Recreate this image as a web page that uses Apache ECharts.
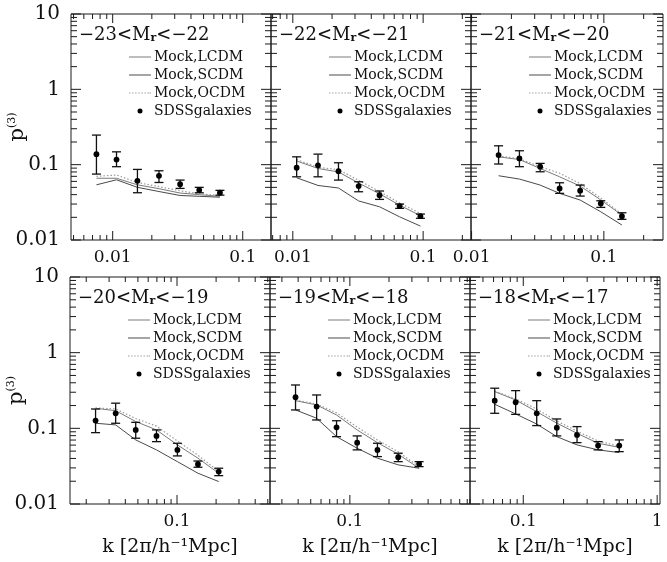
<!DOCTYPE html>
<html><head><meta charset="utf-8">
<script src="https://cdn.jsdelivr.net/npm/echarts@6/dist/echarts.min.js"></script>
<style>html,body{margin:0;padding:0;background:#fff}#c{width:667px;height:562px}</style>
</head><body><div id="c"></div>
<script>
const FONT = 'DejaVu Serif';
const INK = '#111';

// ---------- tick labels ----------
const yRange = [0.01, 10];
const yTickLabels = {'-2': '0.01', '-1': '0.1', '0': '1', '1': '10'};
const xTickLabels = {'-3': '0.001', '-2': '0.01', '-1': '0.1', '0': '1'};
const xAxisTitle = 'k [2π/h⁻¹Mpc]';
const seriesNames = ['Mock,LCDM', 'Mock,SCDM', 'Mock,OCDM', 'SDSSgalaxies'];

// ---------- panel labels (magnitude bins) ----------
const magBins = [['−23', '−22'], ['−22', '−21'], ['−21', '−20'], ['−20', '−19'], ['−19', '−18'], ['−18', '−17']];
const xRanges = [[0.00478, 0.165], [0.0068, 0.233], [0.0099, 0.28], [0.015, 0.52], [0.0243, 0.84], [0.04, 1.05]];

// ---------- panel 1: -23<Mr<-22 ----------
const k1 = [0.0075, 0.0107, 0.0155, 0.0227, 0.033, 0.0463, 0.0668];
const p1 = [0.138, 0.117, 0.061, 0.071, 0.055, 0.046, 0.0424];
const hi1 = [0.247, 0.148, 0.0865, 0.083, 0.0624, 0.050, 0.0456];
const lo1 = [0.075, 0.094, 0.0424, 0.058, 0.0484, 0.0424, 0.0394];
const lcdm1 = [0.066, 0.066, 0.054, 0.048, 0.042, 0.040, 0.038];
const scdm1 = [0.054, 0.063, 0.050, 0.044, 0.039, 0.038, 0.037];
const ocdm1 = [0.070, 0.073, 0.058, 0.051, 0.045, 0.041, 0.039];

// ---------- panel 2: -22<Mr<-21 ----------
const k2 = [0.0107, 0.0156, 0.0224, 0.032, 0.0463, 0.066, 0.0953];
const p2 = [0.091, 0.098, 0.082, 0.052, 0.0394, 0.0282, 0.0207];
const hi2 = [0.127, 0.138, 0.106, 0.0593, 0.0447, 0.030, 0.0221];
const lo2 = [0.069, 0.069, 0.0624, 0.0437, 0.0346, 0.0263, 0.0194];
const lcdm2 = [0.112, 0.089, 0.080, 0.057, 0.041, 0.029, 0.021];
const scdm2 = [0.067, 0.053, 0.049, 0.033, 0.0276, 0.0203, 0.0153];
const ocdm2 = [0.117, 0.092, 0.086, 0.062, 0.044, 0.031, 0.0225];

// ---------- panel 3: -21<Mr<-20 ----------
const k3 = [0.016, 0.023, 0.033, 0.0463, 0.0662, 0.0948, 0.137];
const p3 = [0.134, 0.121, 0.094, 0.0484, 0.0451, 0.0306, 0.0207];
const hi3 = [0.178, 0.153, 0.104, 0.0575, 0.0536, 0.0332, 0.023];
const lo3 = [0.102, 0.094, 0.0805, 0.0416, 0.0383, 0.0271, 0.0188];
const lcdm3 = [0.127, 0.117, 0.089, 0.069, 0.052, 0.034, 0.0214];
const scdm3 = [0.0713, 0.0644, 0.0536, 0.0416, 0.0339, 0.0237, 0.0158];
const ocdm3 = [0.13, 0.12, 0.094, 0.077, 0.056, 0.036, 0.022];

// ---------- panel 4: -20<Mr<-19 ----------
const k4 = [0.0236, 0.0337, 0.0481, 0.0695, 0.1007, 0.145, 0.2095];
const p4 = [0.1265, 0.158, 0.0953, 0.0794, 0.0519, 0.0336, 0.0268];
const hi4 = [0.180, 0.215, 0.12, 0.0953, 0.0635, 0.037, 0.0297];
const lo4 = [0.0877, 0.1167, 0.074, 0.0667, 0.0432, 0.0306, 0.0237];
const lcdm4 = [0.184, 0.171, 0.123, 0.0953, 0.0604, 0.0403, 0.0255];
const scdm4 = [0.1167, 0.111, 0.0703, 0.0519, 0.0363, 0.0255, 0.0198];
const ocdm4 = [0.186, 0.18, 0.135, 0.107, 0.068, 0.044, 0.027];

// ---------- panel 5: -19<Mr<-18 ----------
const k5 = [0.0382, 0.0555, 0.079, 0.1138, 0.163, 0.2355, 0.341];
const p5 = [0.2575, 0.194, 0.103, 0.0647, 0.0519, 0.0415, 0.0339];
const hi5 = [0.374, 0.276, 0.126, 0.0794, 0.0635, 0.0469, 0.0363];
const lo5 = [0.175, 0.129, 0.0776, 0.0519, 0.0423, 0.0363, 0.0312];
const lcdm5 = [0.232, 0.204, 0.150, 0.0953, 0.0647, 0.0455, 0.0297];
const scdm5 = [0.175, 0.136, 0.0776, 0.0546, 0.0403, 0.0329, 0.0297];
const ocdm5 = [0.236, 0.21, 0.16, 0.104, 0.07, 0.049, 0.031];

// ---------- panel 6: -18<Mr<-17 ----------
const k6 = [0.0612, 0.0877, 0.126, 0.178, 0.252, 0.362, 0.521];
const p6 = [0.232, 0.221, 0.158, 0.102, 0.0819, 0.0592, 0.0592];
const hi6 = [0.339, 0.315, 0.232, 0.133, 0.1054, 0.0667, 0.0703];
const lo6 = [0.158, 0.153, 0.1087, 0.0794, 0.0647, 0.0519, 0.0492];
const lcdm6 = [0.306, 0.237, 0.166, 0.117, 0.086, 0.0635, 0.056];
const scdm6 = [0.208, 0.155, 0.114, 0.0776, 0.0604, 0.0519, 0.0478];
const ocdm6 = [0.31, 0.245, 0.18, 0.125, 0.092, 0.068, 0.058];

const panels = [
  {k: k1, p: p1, hi: hi1, lo: lo1, lcdm: lcdm1, scdm: scdm1, ocdm: ocdm1},
  {k: k2, p: p2, hi: hi2, lo: lo2, lcdm: lcdm2, scdm: scdm2, ocdm: ocdm2},
  {k: k3, p: p3, hi: hi3, lo: lo3, lcdm: lcdm3, scdm: scdm3, ocdm: ocdm3},
  {k: k4, p: p4, hi: hi4, lo: lo4, lcdm: lcdm4, scdm: scdm4, ocdm: ocdm4},
  {k: k5, p: p5, hi: hi5, lo: lo5, lcdm: lcdm5, scdm: scdm5, ocdm: ocdm5},
  {k: k6, p: p6, hi: hi6, lo: lo6, lcdm: lcdm6, scdm: scdm6, ocdm: ocdm6}
];

// ---------- layout ----------
const gridBoxes = [
  [71, 14, 200, 226], [271, 14, 200, 226], [471, 14, 192, 226],
  [70, 277, 200, 227], [270, 277, 200, 227], [470, 277, 190, 227]
];
const lineColors = ['#7a7a7a', '#4a4a4a', '#9a9a9a'];
const SOLID_ICON = 'path://M0,0h22v1h-22z';
const DOT_ICON = 'path://M0,0h1.4v1h-1.4zM3.1,0h1.4v1h-1.4zM6.2,0h1.4v1h-1.4zM9.3,0h1.4v1h-1.4zM12.4,0h1.4v1h-1.4zM15.5,0h1.4v1h-1.4zM18.6,0h1.4v1h-1.4zM20.6,0h1.4v1h-1.4z';

function decadeLabel(map) {
  return function (v) {
    const l = Math.log10(v);
    const e = Math.round(l);
    if (Math.abs(l - e) > 1e-6) return '';
    return map[String(e)] || '';
  };
}

function minorTicks(range) {
  const out = [];
  const e0 = Math.floor(Math.log10(range[0])), e1 = Math.ceil(Math.log10(range[1]));
  for (let e = e0; e <= e1; e++) {
    for (let m = 1; m <= 9; m++) {
      const v = m * Math.pow(10, e);
      if (v >= range[0] * 0.9999 && v <= range[1] * 1.0001) out.push({v: v, major: m === 1 ? 1 : 0});
    }
  }
  return out;
}

const grids = [], xAxes = [], yAxes = [], series = [], titles = [], legends = [];

panels.forEach(function (pn, i) {
  const b = gridBoxes[i];
  const xr = xRanges[i];
  grids.push({left: b[0], top: b[1], width: b[2], height: b[3], show: true, borderColor: '#1a1a1a', borderWidth: 1,
    backgroundColor: 'transparent', containLabel: false, outerBoundsMode: 'none'});
  xAxes.push({
    type: 'log', logBase: 10, gridIndex: i, min: xr[0], max: xr[1],
    axisLine: {show: false}, axisTick: {show: false}, splitLine: {show: false}, minorTick: {show: false},
    axisLabel: {formatter: decadeLabel(xTickLabels), fontFamily: FONT, fontSize: 17, color: INK, margin: 9, showMinLabel: true, showMaxLabel: true, hideOverlap: false},
    name: i >= 3 ? xAxisTitle : '', nameLocation: 'middle', nameGap: 34, nameMoveOverlap: false,
    nameTextStyle: {fontFamily: FONT, fontSize: 19, color: INK}
  });
  const leftCol = (i % 3) === 0;
  yAxes.push({
    type: 'log', logBase: 10, gridIndex: i, min: yRange[0], max: yRange[1],
    axisLine: {show: false}, axisTick: {show: false}, splitLine: {show: false}, minorTick: {show: false},
    axisLabel: {show: leftCol, formatter: decadeLabel(yTickLabels), fontFamily: FONT, fontSize: 20, color: INK, margin: 11, showMinLabel: true, showMaxLabel: true},
    name: leftCol ? '{p|p}{s|(3)}' : '', nameLocation: 'middle', nameGap: 43, nameRotate: 90, nameMoveOverlap: false,
    nameTextStyle: {rich: {p: {fontFamily: FONT, fontSize: 21, color: INK}, s: {fontFamily: FONT, fontSize: 11, color: INK, verticalAlign: 'top'}}}
  });

  const pairs = function (ys) { return pn.k.map(function (x, j) { return [x, ys[j]]; }); };
  series.push({name: seriesNames[0], type: 'line', xAxisIndex: i, yAxisIndex: i, data: pairs(pn.lcdm), symbol: 'none', silent: true,
    lineStyle: {color: lineColors[0], width: 1}, itemStyle: {color: lineColors[0]}, z: 2});
  series.push({name: seriesNames[1], type: 'line', xAxisIndex: i, yAxisIndex: i, data: pairs(pn.scdm), symbol: 'none', silent: true,
    lineStyle: {color: lineColors[1], width: 1}, itemStyle: {color: lineColors[1]}, z: 2});
  series.push({name: seriesNames[2], type: 'line', xAxisIndex: i, yAxisIndex: i, data: pairs(pn.ocdm), symbol: 'none', silent: true,
    lineStyle: {color: lineColors[2], width: 1.2, type: [1.5, 2]}, itemStyle: {color: lineColors[2]}, z: 2});
  series.push({
    name: seriesNames[3], type: 'custom', xAxisIndex: i, yAxisIndex: i, silent: true, z: 5,
    itemStyle: {color: '#000'},
    encode: {x: 0, y: 1},
    data: pn.k.map(function (x, j) { return [x, pn.p[j], pn.lo[j], pn.hi[j]]; }),
    renderItem: function (params, api) {
      const x = api.value(0);
      const c = api.coord([x, api.value(1)]);
      const cl = api.coord([x, api.value(2)]);
      const ch = api.coord([x, api.value(3)]);
      const cw = 4.5;
      const st = {stroke: '#111', lineWidth: 1.3};
      return {type: 'group', children: [
        {type: 'line', shape: {x1: c[0], y1: cl[1], x2: c[0], y2: ch[1]}, style: st},
        {type: 'line', shape: {x1: c[0] - cw, y1: ch[1], x2: c[0] + cw, y2: ch[1]}, style: st},
        {type: 'line', shape: {x1: c[0] - cw, y1: cl[1], x2: c[0] + cw, y2: cl[1]}, style: st},
        {type: 'circle', shape: {cx: c[0], cy: c[1], r: 2.9}, style: {fill: '#000'}}
      ]};
    }
  });
  // x ticks (bottom + top)
  series.push({
    type: 'custom', xAxisIndex: i, yAxisIndex: i, silent: true, z: 4, encode: {x: 0, y: 1},
    data: minorTicks(xr).map(function (t) { return [t.v, yRange[0], t.major]; }),
    renderItem: function (params, api) {
      const v = api.value(0);
      const L = api.value(2) ? 9 : 5;
      const bt = api.coord([v, yRange[0]]), tp = api.coord([v, yRange[1]]);
      const st = {stroke: '#1a1a1a', lineWidth: 1};
      return {type: 'group', children: [
        {type: 'line', shape: {x1: bt[0], y1: bt[1], x2: bt[0], y2: bt[1] - L}, style: st},
        {type: 'line', shape: {x1: tp[0], y1: tp[1], x2: tp[0], y2: tp[1] + L}, style: st}
      ]};
    }
  });
  // y ticks (left + right)
  series.push({
    type: 'custom', xAxisIndex: i, yAxisIndex: i, silent: true, z: 4, encode: {x: 0, y: 1},
    data: minorTicks(yRange).map(function (t) { return [xr[0], t.v, t.major]; }),
    renderItem: function (params, api) {
      const v = api.value(1);
      const L = api.value(2) ? 10 : 6;
      const lf = api.coord([xr[0], v]), rt = api.coord([xr[1], v]);
      const st = {stroke: '#1a1a1a', lineWidth: 1};
      return {type: 'group', children: [
        {type: 'line', shape: {x1: lf[0], y1: lf[1], x2: lf[0] + L, y2: lf[1]}, style: st},
        {type: 'line', shape: {x1: rt[0], y1: rt[1], x2: rt[0] - L, y2: rt[1]}, style: st}
      ]};
    }
  });

  titles.push({
    text: '{a|' + magBins[i][0] + '<M}{b|r}{a|<' + magBins[i][1] + '}',
    left: b[0] + 8, top: b[1] + 12, padding: 0, z: 10,
    textStyle: {fontWeight: 'normal', rich: {
      a: {fontFamily: FONT, fontSize: 18, fontWeight: 'normal', color: INK},
      b: {fontFamily: FONT, fontSize: 11, fontWeight: 'bold', color: INK, verticalAlign: 'bottom'}
    }}
  });
  legends.push({
    left: b[0] + 58, top: b[1] + 36, orient: 'vertical', padding: 0,
    itemWidth: 22, itemHeight: 5, itemGap: 4, selectedMode: false,
    textStyle: {fontFamily: FONT, fontSize: 14, color: INK, lineHeight: 14, padding: [0, 0, 0, -2]},
    data: [
      {name: seriesNames[0], icon: SOLID_ICON, itemStyle: {color: lineColors[0]}},
      {name: seriesNames[1], icon: SOLID_ICON, itemStyle: {color: lineColors[1]}},
      {name: seriesNames[2], icon: DOT_ICON, itemStyle: {color: lineColors[2]}},
      {name: seriesNames[3], icon: 'circle', itemStyle: {color: '#000'}}
    ]
  });
});

const chart = echarts.init(document.getElementById('c'), null, {renderer: 'canvas'});
chart.setOption({
  animation: false,
  backgroundColor: '#fff',
  title: titles,
  legend: legends,
  grid: grids,
  xAxis: xAxes,
  yAxis: yAxes,
  series: series
});
</script>
</body></html>
